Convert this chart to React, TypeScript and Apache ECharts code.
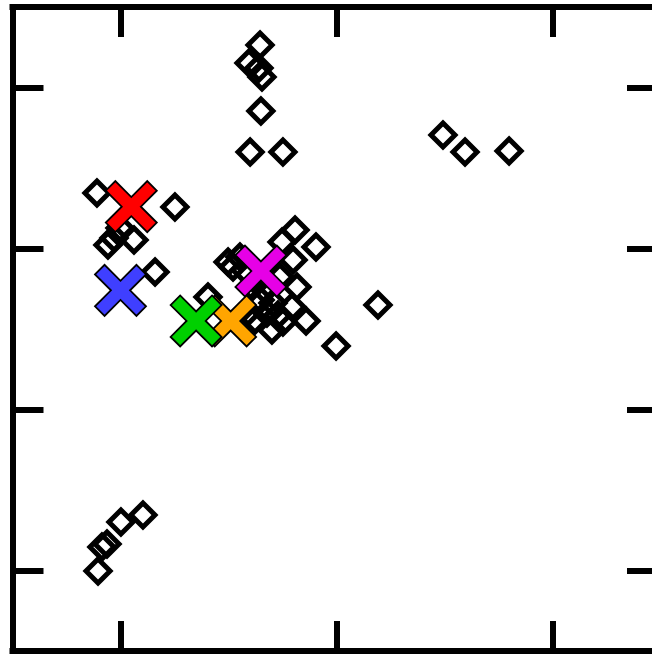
import React, { useEffect, useRef } from "react";
import * as echarts from "echarts";

const xTicks = [1, 2, 3];
const yTicks = [1, 2, 3, 4];
const xRange = [0.5, 3.4606];
const yRange = [0.5, 4.5];

const pointX = [
  1.646, 1.595, 1.641, 1.655, 1.65, 1.6, 1.752,
  2.493, 2.595, 2.799,
  0.896, 0.914, 0.9375, 1.002, 1.104,
  0.891, 1.252, 0.998, 0.942, 0.97, 1.0625, 1.16,
  1.808, 1.748, 1.905, 1.799, 1.553, 1.521, 1.576, 1.738, 1.817, 1.794,
  1.752, 1.859, 1.701, 1.678, 1.646, 1.706, 1.405, 1.998, 2.192, 1.623,
  1.498, 1.609, 1.669, 1.729, 1.59,
];
const pointY = [
  4.264, 4.152, 4.121, 4.065, 3.854, 3.599, 3.599,
  3.705, 3.599, 3.606,
  0.997, 1.146, 1.165, 1.301, 1.345,
  3.345, 3.258, 3.127, 3.022, 3.065, 3.053, 2.854,
  3.115, 3.04, 3.009, 2.929, 2.947, 2.885, 2.866, 2.823, 2.761, 2.637,
  2.543, 2.55, 2.494, 2.599, 2.68, 2.661, 2.699, 2.394, 2.649, 2.556,
  2.916, 2.761, 2.742, 2.587, 2.606,
];

const centroidNames = ["orange", "green", "red", "blue", "magenta"];
const centroidX = [1.51, 1.35, 1.05, 1.0, 1.65];
const centroidY = [2.55, 2.55, 3.26, 2.74, 2.86];
const centroidColors = ["#ffa500", "#00d000", "#ff0000", "#3f3fff", "#e600e6"];

const X_PATH =
  "path://M0,4.5 L4.5,0 L12,7.5 L19.5,0 L24,4.5 L16.5,12 L24,19.5 L19.5,24 L12,16.5 L4.5,24 L0,19.5 L7.5,12 Z";

function axis(ticks: number[], range: number[], position: string, showLine: boolean, tickLen: number) {
  return {
    type: "value",
    position,
    min: range[0],
    max: range[1],
    axisLine: {
      show: showLine,
      onZero: false,
      lineStyle: { color: "#000", width: 6, cap: "square" },
    },
    axisTick: {
      show: true,
      inside: true,
      length: tickLen,
      customValues: ticks,
      lineStyle: { color: "#000", width: 6 },
    },
    axisLabel: { show: false },
    splitLine: { show: false },
  };
}

export default function App() {
  const ref = useRef<HTMLDivElement>(null);
  useEffect(() => {
    document.body.style.margin = "0";
    const chart = echarts.init(ref.current!, undefined, { renderer: "svg" });
    const series: any[] = [
      {
        type: "scatter",
        name: "points",
        xAxisIndex: 0,
        yAxisIndex: 0,
        data: pointX.map((x, i) => [x, pointY[i]]),
        symbol: "diamond",
        symbolSize: 24,
        itemStyle: { color: "rgba(0,0,0,0)", borderColor: "#000", borderWidth: 5, opacity: 1 },
        z: 2,
      },
    ];
    centroidNames.forEach((n, i) => {
      series.push({
        type: "scatter",
        name: n,
        xAxisIndex: 0,
        yAxisIndex: 0,
        data: [[centroidX[i], centroidY[i]]],
        symbol: X_PATH,
        symbolSize: 51,
        itemStyle: { color: centroidColors[i], borderColor: "#000", borderWidth: 1.8, opacity: 1 },
        z: 3 + i,
      });
    });
    chart.setOption({
      animation: false,
      backgroundColor: "#fff",
      grid: { left: 12.5, top: 7, right: 0, bottom: 4 },
      xAxis: [axis(xTicks, xRange, "bottom", true, 30), axis(xTicks, xRange, "top", true, 30)],
      yAxis: [axis(yTicks, yRange, "left", true, 31), axis(yTicks, yRange, "right", false, 25)],
      series,
    });
    return () => chart.dispose();
  }, []);
  return <div ref={ref} style={{ width: 652, height: 655 }} />;
}
